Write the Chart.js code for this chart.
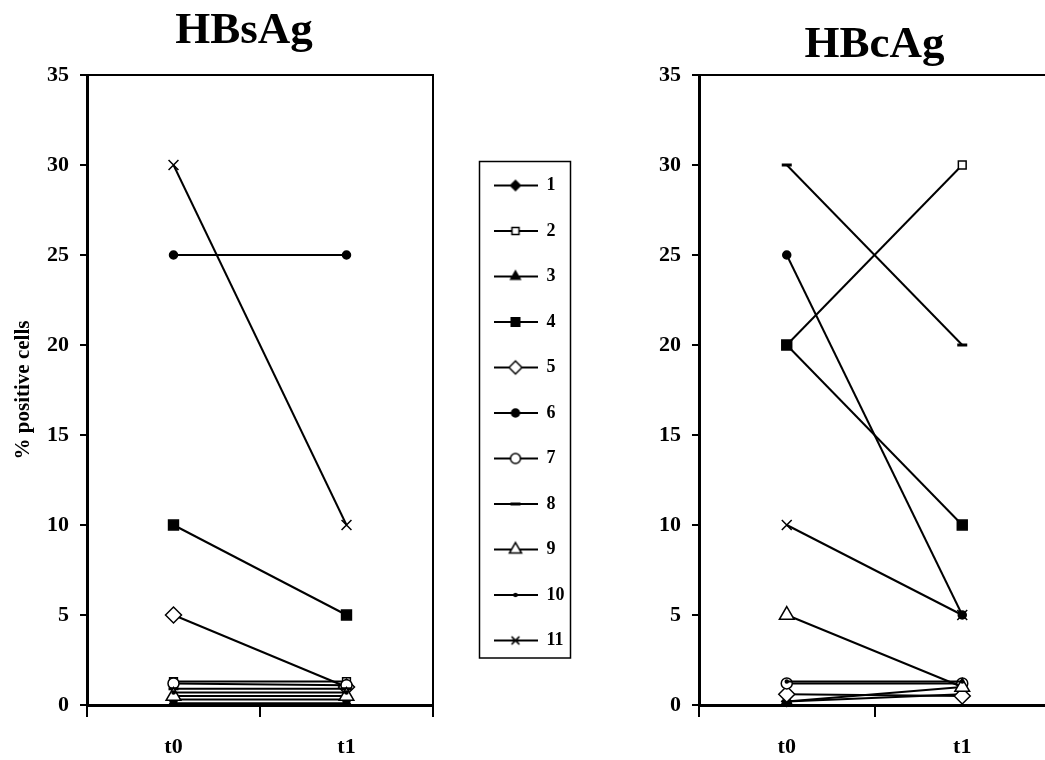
<!DOCTYPE html>
<html>
<head>
<meta charset="utf-8">
<title>HBsAg / HBcAg</title>
<script src="https://cdn.jsdelivr.net/npm/chart.js@4/dist/chart.umd.min.js"></script>
<style>
    html, body { margin: 0; padding: 0; background: #fff; overflow: hidden; width: 1045px; height: 760px; }
    canvas { position: absolute; }
    #left { left: 0; top: 0; }
    #right { left: 600px; top: 0; }
    #key { left: 466px; top: 133px; }
</style>
</head>
<body>
<canvas id="left" width="488" height="760"></canvas>
<canvas id="right" width="460" height="760"></canvas>
<canvas id="key" width="230" height="560"></canvas>
<script>
// categories and series (patients 1..11)
const timepoints = ['t0', 't1'];
const seriesNames = ['1', '2', '3', '4', '5', '6', '7', '8', '9', '10', '11'];

// % positive cells, one value per patient
const hbsAgT0 = [0.3, 1.3, 0.1, 10, 5, 25, 1.2, 0.9, 0.5, 0.7, 30];
const hbsAgT1 = [0.3, 1.3, 0.1, 5, 1, 25, 1.1, 0.9, 0.5, 0.7, 10];
const hbcAgT0 = [0.2, 20, 0.2, 20, 0.6, 25, 1.2, 30, 5, 1.3, 10];
const hbcAgT1 = [0.6, 30, 1.0, 10, 0.5, 5, 1.2, 20, 1, 1.3, 5];

const yMin = 0;
const yMax = 35;
const yStep = 5;

// marker look per patient
const markerStyles = ['rectRot', 'rect', 'triangle', 'rect', 'rectRot', 'circle', 'circle', 'line', 'triangle', 'circle', 'crossRot'];
const markerFilled = [true, false, true, true, false, true, false, true, false, true, false];
const markerRadius = [5, 5.5, 6, 7, 8, 4, 5.5, 5, 8.5, 1.5, 7];
const legendRadius = [5, 5, 5.5, 6, 6.5, 4, 5, 5, 7, 1.5, 5.5];

const FAMILY = "'Liberation Serif', 'Times New Roman', serif";
const font = size => ({ family: FAMILY, size: size, weight: 'bold' });

function buildDatasets(t0, t1) {
    return seriesNames.map((name, i) => ({
        label: name,
        data: [t0[i], t1[i]],
        order: -i, // later patients drawn on top, like the original
        borderColor: '#000',
        borderWidth: 2,
        pointStyle: markerStyles[i],
        pointRadius: markerRadius[i],
        pointHoverRadius: markerRadius[i],
        pointBorderWidth: markerStyles[i] === 'line' ? 3 : 1.5,
        pointBackgroundColor: markerFilled[i] ? '#000' : '#fff',
        pointBorderColor: '#000',
        tension: 0,
        clip: false
    }));
}

function xScale() {
    return {
        type: 'category',
        offset: true,
        grid: { offset: true, drawOnChartArea: false, drawTicks: true, tickLength: 12, lineWidth: 2, color: '#000' },
        border: { display: true, width: 3, color: '#000' },
        ticks: { color: '#000', font: font(22), padding: 17, maxRotation: 0 },
        afterFit: scale => { scale.height = 55; }
    };
}

function yScale(width, title) {
    return {
        min: yMin,
        max: yMax,
        ticks: { stepSize: yStep, color: '#000', font: font(22), padding: 11 },
        grid: { drawOnChartArea: false, tickLength: 7, lineWidth: 2, color: '#000' },
        border: { display: true, width: 3, color: '#000' },
        title: title
            ? { display: true, text: title, color: '#000', font: font(21), padding: { top: 11, bottom: 0 } }
            : { display: false },
        afterFit: scale => { scale.width = width; }
    };
}

// top and right edges of the plot box
const frame = {
    id: 'frame',
    beforeDatasetsDraw(chart) {
        const a = chart.chartArea;
        const ctx = chart.ctx;
        ctx.save();
        ctx.strokeStyle = '#000';
        ctx.lineWidth = 2;
        ctx.beginPath();
        ctx.moveTo(a.left, a.top);
        ctx.lineTo(a.right, a.top);
        ctx.lineTo(a.right, a.bottom);
        ctx.stroke();
        ctx.restore();
    }
};

// left chart
new Chart(document.getElementById('left'), {
    type: 'line',
    data: { labels: timepoints, datasets: buildDatasets(hbsAgT0, hbsAgT1) },
    options: {
        responsive: false,
        animation: false,
        devicePixelRatio: 1,
        layout: { padding: 0 },
        scales: {
            x: xScale(),
            y: yScale(87, '% positive cells'),
            y2: {
                position: 'right',
                ticks: { display: false },
                grid: { display: false },
                border: { display: false },
                afterFit: scale => { scale.width = 55; }
            }
        },
        plugins: {
            legend: { display: false },
            tooltip: { enabled: false },
            title: {
                display: true,
                text: 'HBsAg',
                color: '#000',
                font: font(45),
                padding: { top: 4, bottom: 17 }
            }
        }
    },
    plugins: [frame]
});

// right chart
new Chart(document.getElementById('right'), {
    type: 'line',
    data: { labels: timepoints, datasets: buildDatasets(hbcAgT0, hbcAgT1) },
    options: {
        responsive: false,
        animation: false,
        devicePixelRatio: 1,
        layout: { padding: { right: 4 } },
        scales: {
            x: xScale(),
            y: yScale(99, null)
        },
        plugins: {
            legend: { display: false },
            tooltip: { enabled: false },
            title: {
                display: true,
                text: 'HBcAg',
                color: '#000',
                font: font(45),
                fullSize: false,
                padding: { top: 18, bottom: 3 }
            }
        }
    },
    plugins: [frame]
});

// legend icons: a short line with the marker in the middle
function makeIcon(i) {
    const c = document.createElement('canvas');
    c.width = 44;
    c.height = 20;
    const ctx = c.getContext('2d');
    ctx.strokeStyle = '#000';
    ctx.lineWidth = 2;
    ctx.beginPath();
    ctx.moveTo(0, 10);
    ctx.lineTo(44, 10);
    ctx.stroke();
    ctx.fillStyle = markerFilled[i] ? '#000' : '#fff';
    ctx.lineWidth = markerStyles[i] === 'line' ? 3 : 1.5;
    Chart.helpers.drawPoint(ctx, {
        pointStyle: markerStyles[i],
        radius: legendRadius[i],
        borderWidth: ctx.lineWidth,
        rotation: 0
    }, 22, 10);
    return c;
}
const legendIcons = seriesNames.map((name, i) => makeIcon(i));

const legendBox = {
    id: 'legendBox',
    afterDraw(chart) {
        const boxes = chart.legend.legendHitBoxes;
        if (!boxes || !boxes.length) return;
        const ctx = chart.ctx;
        const left = Math.min(...boxes.map(b => b.left)) - 14;
        const right = Math.max(...boxes.map(b => b.left + b.width)) + 6;
        const top = boxes[0].top - 15;
        const last = boxes[boxes.length - 1];
        const bottom = last.top + last.height + 8.5;
        ctx.save();
        ctx.strokeStyle = '#000';
        ctx.lineWidth = 1.5;
        ctx.strokeRect(left, top, right - left, bottom - top);
        ctx.restore();
    }
};

new Chart(document.getElementById('key'), {
    type: 'line',
    data: { labels: [], datasets: seriesNames.map(name => ({ label: name, data: [] })) },
    options: {
        responsive: false,
        animation: false,
        devicePixelRatio: 1,
        scales: { x: { display: false }, y: { display: false } },
        plugins: {
            tooltip: { enabled: false },
            legend: {
                position: 'left',
                labels: {
                    usePointStyle: true,
                    pointStyleWidth: 44,
                    padding: 27.5,
                    color: '#000',
                    font: font(18),
                    generateLabels: chart => chart.data.datasets.map((ds, i) => ({
                        text: ds.label,
                        pointStyle: legendIcons[i],
                        datasetIndex: i,
                        hidden: false,
                        lineWidth: 0,
                        fillStyle: '#000',
                        strokeStyle: '#000',
                        fontColor: '#000'
                    }))
                }
            }
        }
    },
    plugins: [legendBox]
});
</script>
</body>
</html>
